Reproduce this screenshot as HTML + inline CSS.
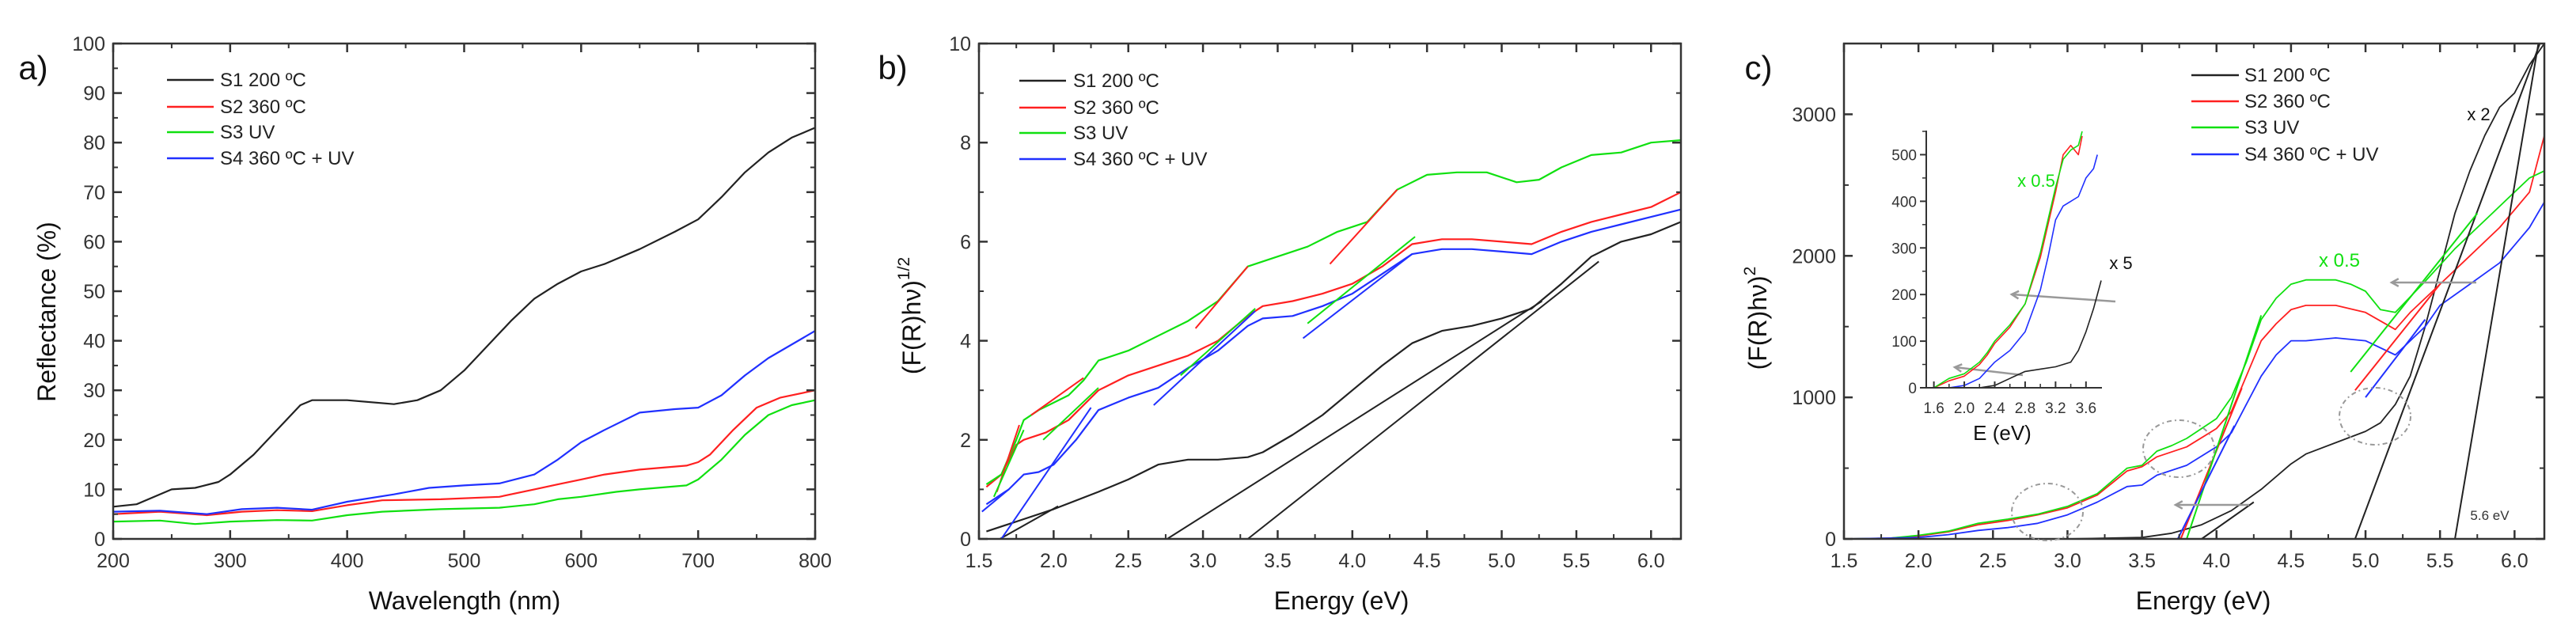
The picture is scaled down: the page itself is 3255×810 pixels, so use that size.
<!DOCTYPE html>
<html><head><meta charset="utf-8"><style>
body{margin:0;background:#fff;}
svg{display:block;font-family:"Liberation Sans",sans-serif;}
</style></head><body>
<svg id="fig" width="3255" height="810" viewBox="0 0 3255 810" xmlns="http://www.w3.org/2000/svg"></svg>
<script>
// ---------- Panel a data ----------
const aS1x=[200,220,250,270,290,300,320,340,360,370,400,440,460,480,500,520,540,560,580,600,620,650,680,700,720,740,760,780,800];
const aS1y=[6.5,7,10,10.3,11.5,13,17,22,27,28,28,27.2,28,30,34,39,44,48.5,51.5,54,55.5,58.5,62,64.5,69,74,78,81,83];
const aS2x=[200,240,280,310,340,370,400,430,480,530,560,580,600,620,650,690,700,710,730,750,770,800];
const aS2y=[5,5.5,4.8,5.5,5.8,5.6,6.8,7.8,8,8.5,10,11,12,13,14,14.8,15.5,17,22,26.5,28.5,30];
const aS3x=[200,240,270,300,340,370,400,430,480,530,560,580,600,630,650,690,700,720,740,760,780,800];
const aS3y=[3.5,3.7,3,3.5,3.8,3.7,4.8,5.5,6,6.3,7,8,8.5,9.5,10,10.8,12,16,21,25,27,28];
const aS4x=[200,240,280,310,340,370,400,440,470,500,530,560,580,600,620,650,680,700,720,740,760,800];
const aS4y=[5.5,5.7,5,6,6.3,5.9,7.5,9,10.3,10.8,11.2,13,16,19.5,22,25.5,26.2,26.5,29,33,36.5,42];
const aXTicks=[200,300,400,500,600,700,800];
const aYTicks=[0,10,20,30,40,50,60,70,80,90,100];
// ---------- Panel b data ----------
const bS1x=[1.55,1.8,2.0,2.3,2.5,2.7,2.9,3.1,3.3,3.4,3.6,3.8,4.0,4.2,4.4,4.6,4.8,5.0,5.2,5.4,5.6,5.8,6.0,6.2];
const bS1y=[0.15,0.4,0.6,0.95,1.2,1.5,1.6,1.6,1.65,1.75,2.1,2.5,3.0,3.5,3.95,4.2,4.3,4.45,4.65,5.15,5.7,6.0,6.15,6.4];
const bS2x=[1.55,1.65,1.75,1.8,1.95,2.1,2.3,2.5,2.7,2.9,3.1,3.3,3.4,3.6,3.8,4.0,4.2,4.4,4.6,4.8,5.0,5.2,5.4,5.6,5.8,6.0,6.2];
const bS2y=[1.05,1.3,1.9,2.0,2.15,2.4,3.0,3.3,3.5,3.7,4.0,4.5,4.7,4.8,4.95,5.15,5.5,5.95,6.05,6.05,6.0,5.95,6.2,6.4,6.55,6.7,7.0];
const bS3x=[1.55,1.65,1.75,1.8,1.9,2.1,2.2,2.3,2.5,2.7,2.9,3.1,3.3,3.5,3.6,3.7,3.9,4.1,4.3,4.5,4.7,4.9,5.1,5.25,5.4,5.6,5.8,6.0,6.2];
const bS3y=[1.1,1.3,2.0,2.4,2.6,2.9,3.2,3.6,3.8,4.1,4.4,4.8,5.5,5.7,5.8,5.9,6.2,6.4,7.05,7.35,7.4,7.4,7.2,7.25,7.5,7.75,7.8,8.0,8.05];
const bS4x=[1.55,1.7,1.8,1.9,2.0,2.15,2.3,2.5,2.7,2.9,3.1,3.3,3.4,3.6,3.8,4.0,4.2,4.4,4.6,4.8,5.0,5.2,5.4,5.6,5.8,6.0,6.2];
const bS4y=[0.7,1.0,1.3,1.35,1.5,2.0,2.6,2.85,3.05,3.45,3.8,4.3,4.45,4.5,4.7,4.95,5.35,5.75,5.85,5.85,5.8,5.75,6.0,6.2,6.35,6.5,6.65];
// fit lines: x1,y1,x2,y2
const bFitBlack=[[1.64,0,2.03,0.66],[2.76,0,5.27,4.8],[3.3,0,5.65,5.6]];
const bFitRed=[[1.62,0.95,1.77,2.3],[1.85,2.5,2.2,3.25],[2.95,4.25,3.3,5.5],[3.85,5.55,4.3,7.05]];
const bFitGreen=[[1.6,0.85,1.8,2.2],[1.93,2.0,2.3,3.05],[2.85,3.3,3.35,4.65],[3.7,4.35,4.42,6.1]];
const bFitBlue=[[1.52,0.55,1.7,1.0],[1.65,0,2.25,2.65],[2.67,2.7,3.35,4.6],[3.67,4.05,4.4,5.75]];
const bXTicks=[1.5,2.0,2.5,3.0,3.5,4.0,4.5,5.0,5.5,6.0];
const bYTicks=[0,2,4,6,8,10];
// ---------- Panel c data ----------
const cS1x=[1.5,3.0,3.5,3.7,3.9,4.1,4.3,4.5,4.6,4.8,5.0,5.1,5.2,5.3,5.4,5.5,5.6,5.7,5.8,5.9,6.0,6.1,6.2];
const cS1y=[0,0,10,40,100,200,350,530,600,680,760,820,950,1150,1500,1900,2300,2600,2850,3050,3150,3350,3500];
const cS2x=[1.5,1.8,2.0,2.2,2.4,2.6,2.8,3.0,3.2,3.4,3.5,3.6,3.8,4.0,4.1,4.2,4.3,4.4,4.5,4.6,4.8,5.0,5.2,5.3,5.5,5.7,5.9,6.1,6.2];
const cS2y=[0,5,20,50,100,130,170,220,310,480,510,580,650,780,900,1150,1400,1520,1620,1650,1650,1600,1480,1600,1800,2000,2200,2450,2850];
const cS3x=[1.5,1.8,2.0,2.2,2.4,2.6,2.8,3.0,3.2,3.4,3.5,3.6,3.7,3.8,4.0,4.1,4.2,4.3,4.4,4.5,4.6,4.8,4.9,5.0,5.1,5.2,5.4,5.6,5.8,6.0,6.1,6.2];
const cS3y=[0,5,25,55,110,140,175,230,320,500,520,620,660,710,850,1000,1250,1550,1700,1800,1830,1830,1800,1750,1620,1600,1820,2050,2250,2450,2550,2600];
const cS4x=[1.5,2.0,2.2,2.4,2.6,2.8,3.0,3.2,3.4,3.5,3.6,3.8,4.0,4.1,4.2,4.3,4.4,4.5,4.6,4.8,5.0,5.2,5.4,5.5,5.7,5.9,6.1,6.2];
const cS4y=[0,10,30,60,80,110,170,260,370,380,450,520,650,750,950,1150,1300,1400,1400,1420,1400,1300,1500,1650,1800,1950,2200,2380];
const cFitBlack=[[3.9,0,4.25,260],[4.93,0,6.17,3500],[5.6,0,6.16,3500]];
const cFitRed=[[3.76,0,4.17,1066],[4.93,1050,5.5,1800]];
const cFitGreen=[[3.8,0,4.3,1580],[4.9,1180,5.75,2300]];
const cFitBlue=[[3.74,0,4.12,800],[5.0,1000,5.4,1550]];
const cXTicks=[1.5,2.0,2.5,3.0,3.5,4.0,4.5,5.0,5.5,6.0];
const cYTicks=[0,1000,2000,3000];
// inset
const iS1x=[1.5,2.2,2.4,2.6,2.8,3.0,3.2,3.4,3.5,3.6,3.7,3.8];
const iS1y=[0,0,5,20,35,40,45,55,80,120,170,230];
const iS2x=[1.6,1.8,2.0,2.2,2.3,2.4,2.6,2.8,3.0,3.1,3.2,3.3,3.4,3.5,3.55];
const iS2y=[0,15,25,50,70,95,130,180,280,350,420,500,520,500,540];
const iS3x=[1.6,1.8,2.0,2.2,2.3,2.4,2.6,2.8,3.0,3.1,3.2,3.3,3.4,3.5,3.55];
const iS3y=[0,20,30,55,75,100,135,180,290,360,430,490,510,520,550];
const iS4x=[1.8,2.0,2.2,2.4,2.6,2.8,3.0,3.1,3.2,3.3,3.4,3.5,3.6,3.7,3.75];
const iS4y=[0,5,20,55,80,120,210,280,360,390,400,410,450,470,500];
const iXTicks=[1.6,2.0,2.4,2.8,3.2,3.6];
const iYTicks=[0,100,200,300,400,500];

const NS="http://www.w3.org/2000/svg";
const svg=document.getElementById('fig');
const COL={k:'#222',r:'#ff2020',g:'#10e010',b:'#2030ff'};
function mk(tag,attrs,parent){const e=document.createElementNS(NS,tag);for(const k in attrs)e.setAttribute(k,attrs[k]);(parent||svg).appendChild(e);return e;}
function txt(x,y,s,size,anchor,fill,parent){const t=mk('text',{x:x,y:y,'font-size':size,'text-anchor':anchor||'start',fill:fill||'#222'},parent);t.textContent=s;return t;}
function scale(d0,d1,p0,p1){return v=>p0+(v-d0)*(p1-p0)/(d1-d0);}
function series(xs,ys,X,Y,color,name,w){
  let d='';for(let i=0;i<xs.length;i++)d+=(i?'L':'M')+X(xs[i]).toFixed(1)+','+Y(ys[i]).toFixed(1);
  const p=mk('path',{d:d,fill:'none',stroke:color,'stroke-width':w||2.2,'stroke-linejoin':'round'});
  
  
  return p;
}
function fits(arr,X,Y,color,name){
  arr.forEach(f=>{const l=mk('line',{x1:X(f[0]),y1:Y(f[1]),x2:X(f[2]),y2:Y(f[3]),stroke:color,'stroke-width':2});
  
  });
}
function frame(L,T,R,B,X,Y,xt,xminor,yt,yminor,xfmt,yfmt,name){
  const g=mk('g',{});
  
  
  mk('rect',{x:L,y:T,width:R-L,height:B-T,fill:'none',stroke:'#333','stroke-width':2.5},g);
  xt.forEach(v=>{const x=X(v);mk('line',{x1:x,y1:B,x2:x,y2:B-11,stroke:'#333','stroke-width':2.5},g);mk('line',{x1:x,y1:T,x2:x,y2:T+11,stroke:'#333','stroke-width':2.5},g);
    const t=txt(x,B+36,xfmt(v),25,'middle','#333',g);});
  xminor.forEach(v=>{const x=X(v);mk('line',{x1:x,y1:B,x2:x,y2:B-6,stroke:'#333','stroke-width':2},g);mk('line',{x1:x,y1:T,x2:x,y2:T+6,stroke:'#333','stroke-width':2},g);});
  yt.forEach(v=>{const y=Y(v);mk('line',{x1:L,y1:y,x2:L+11,y2:y,stroke:'#333','stroke-width':2.5},g);mk('line',{x1:R,y1:y,x2:R-11,y2:y,stroke:'#333','stroke-width':2.5},g);
    const t=txt(L-10,y+9,yfmt(v),25,'end','#333',g);});
  yminor.forEach(v=>{const y=Y(v);mk('line',{x1:L,y1:y,x2:L+6,y2:y,stroke:'#333','stroke-width':2},g);mk('line',{x1:R,y1:y,x2:R-6,y2:y,stroke:'#333','stroke-width':2},g);});
}
function legend(x0,x1,tx,ys,name){
  const labels=['S1 200 ºC','S2 360 ºC','S3 UV','S4 360 ºC + UV'];const cs=[COL.k,COL.r,COL.g,COL.b];
  const g=mk('g',{});
  
  
  labels.forEach((s,i)=>{mk('line',{x1:x0,y1:ys[i],x2:x1,y2:ys[i],stroke:cs[i],'stroke-width':2.5},g);
    const t=txt(tx,ys[i]+8,s,24,'start','#222',g);});
}
function range(a,b,s){const r=[];for(let v=a;v<=b+1e-9;v+=s)r.push(+v.toFixed(3));return r;}

// ===== Panel a =====
(function(){
  const L=143,R=1030,T=55,B=681;
  const X=scale(200,800,L,R),Y=scale(0,100,B,T);
  series(aS1x,aS1y,X,Y,COL.k,'s1-line');series(aS2x,aS2y,X,Y,COL.r,'s2-line');series(aS3x,aS3y,X,Y,COL.g,'s3-line');series(aS4x,aS4y,X,Y,COL.b,'s4-line');
  frame(L,T,R,B,X,Y,aXTicks,range(250,750,100),aYTicks,range(5,95,10),v=>String(v),v=>String(v),'panel-a');
  legend(211,270,278,[101,135,167,200],'legend-a');
  let t=txt(42,100,'a)',42,'middle','#111');
  t=txt(587,770,'Wavelength (nm)',32,'middle','#111');
  t=txt(0,0,'Reflectance (%)',32,'middle','#111');t.setAttribute('transform','translate(70,394) rotate(-90)');
})();
// ===== Panel b =====
(function(){
  const L=1237,R=2124,T=55,B=681;
  const X=scale(1.5,6.2,L,R),Y=scale(0,10,B,T);
  series(bS1x,bS1y,X,Y,COL.k,'s1-line');series(bS2x,bS2y,X,Y,COL.r,'s2-line');series(bS3x,bS3y,X,Y,COL.g,'s3-line');series(bS4x,bS4y,X,Y,COL.b,'s4-line');
  fits(bFitBlack,X,Y,COL.k,'fit-line-s1');fits(bFitRed,X,Y,COL.r,'fit-line-s2');fits(bFitGreen,X,Y,COL.g,'fit-line-s3');fits(bFitBlue,X,Y,COL.b,'fit-line-s4');
  frame(L,T,R,B,X,Y,bXTicks,range(1.75,5.75,0.5),bYTicks,range(1,9,2),v=>v.toFixed(1),v=>String(v),'panel-b');
  legend(1288,1347,1356,[102,136,168,201],'legend-b');
  let t=txt(1128,100,'b)',42,'middle','#111');
  t=txt(1695,770,'Energy (eV)',32,'middle','#111');
  t=mk('text',{'font-size':32,'text-anchor':'middle',fill:'#111',transform:'translate(1163,399) rotate(-90)'});
  t.innerHTML='(F(R)hν)<tspan dy="-14" font-size="21">1/2</tspan>';
  
})();
// ===== Panel c =====
(function(){
  const L=2330,R=3215,T=55,B=681;
  const X=scale(1.5,6.2,L,R),Y=scale(0,3500,B,T);
  const clip=mk('clipPath',{id:'clipc'});mk('rect',{x:L,y:T,width:R-L,height:B-T},clip);
  const gs=mk('g',{'clip-path':'url(#clipc)'});
  [series(cS1x,cS1y,X,Y,COL.k,'s1-line',1.8),series(cS2x,cS2y,X,Y,COL.r,'s2-line',1.8),series(cS3x,cS3y,X,Y,COL.g,'s3-line',1.8),series(cS4x,cS4y,X,Y,COL.b,'s4-line',1.8)].forEach(p=>gs.appendChild(p));
  fits(cFitBlack,X,Y,COL.k,'fit-line-s1');fits(cFitRed,X,Y,COL.r,'fit-line-s2');fits(cFitGreen,X,Y,COL.g,'fit-line-s3');fits(cFitBlue,X,Y,COL.b,'fit-line-s4');
  frame(L,T,R,B,X,Y,cXTicks,range(1.75,5.75,0.5),cYTicks,range(500,3500,1000),v=>v.toFixed(1),v=>String(v),'panel-c');
  legend(2769,2829,2836,[95,128,161,195],'legend-c');
  // circles & arrows
  [[3001,526],[2753,567],[2587,647]].forEach(c=>{const e=mk('ellipse',{cx:c[0],cy:c[1],rx:45,ry:36,fill:'none',stroke:'#999','stroke-width':2,'stroke-dasharray':'6,4,2,4'});});
  function arrow(x1,y1,x2,y2){const a=mk('line',{x1:x1,y1:y1,x2:x2,y2:y2,stroke:'#999','stroke-width':2.5});
    const ang=Math.atan2(y2-y1,x2-x1),s=10;mk('polyline',{points:`${x2-s*Math.cos(ang-0.5)},${y2-s*Math.sin(ang-0.5)} ${x2},${y2} ${x2-s*Math.cos(ang+0.5)},${y2-s*Math.sin(ang+0.5)}`,fill:'none',stroke:'#999','stroke-width':2.5});}
  arrow(3129,357,3022,357);arrow(2842,638,2749,638);arrow(2673,381,2542,372);arrow(2556,474,2470,464);
  let t=txt(3132,152,'x 2',22,'middle','#111');
  t=txt(3146,657,'5.6 eV',17,'middle','#333');
  t=txt(2956,337,'x 0.5',24,'middle',COL.g);
  t=txt(2222,100,'c)',42,'middle','#111');
  t=txt(2784,770,'Energy (eV)',32,'middle','#111');
  t=mk('text',{'font-size':32,'text-anchor':'middle',fill:'#111',transform:'translate(2232,402) rotate(-90)'});
  t.innerHTML='(F(R)hν)<tspan dy="-14" font-size="21">2</tspan>';
  
  // inset
  const IL=2434,IR=2656,IT=165,IB=490;
  const IX=scale(1.5,3.81,IL,IR),IY=scale(0,550,IB,IT+1);
  const ig=mk('g',{});
  [series(iS1x,iS1y,IX,IY,COL.k,'inset-s1-line',1.6),series(iS2x,iS2y,IX,IY,COL.r,'inset-s2-line',1.6),series(iS3x,iS3y,IX,IY,COL.g,'inset-s3-line',1.6),series(iS4x,iS4y,IX,IY,COL.b,'inset-s4-line',1.6)].forEach(p=>ig.appendChild(p));
  mk('polyline',{points:`${IL},${IT} ${IL},${IB} ${IR},${IB}`,fill:'none',stroke:'#333','stroke-width':2},ig);
  iXTicks.forEach(v=>{mk('line',{x1:IX(v),y1:IB,x2:IX(v),y2:IB-8,stroke:'#333','stroke-width':2},ig);txt(IX(v),IB+32,v.toFixed(1),19,'middle','#333',ig);});
  range(1.8,3.4,0.4).forEach(v=>mk('line',{x1:IX(v),y1:IB,x2:IX(v),y2:IB-5,stroke:'#333','stroke-width':1.5},ig));
  iYTicks.forEach(v=>{mk('line',{x1:IL,y1:IY(v),x2:IL-8,y2:IY(v),stroke:'#333','stroke-width':2},ig);txt(IL-12,IY(v)+7,String(v),19,'end','#333',ig);});
  range(50,550,100).forEach(v=>mk('line',{x1:IL,y1:IY(v),x2:IL-5,y2:IY(v),stroke:'#333','stroke-width':1.5},ig));
  t=txt(2530,556,'E (eV)',26,'middle','#111');
  t=txt(2573,236,'x 0.5',22,'middle',COL.g);
  t=txt(2680,340,'x 5',22,'middle','#111');
})();
</script>
</body></html>
